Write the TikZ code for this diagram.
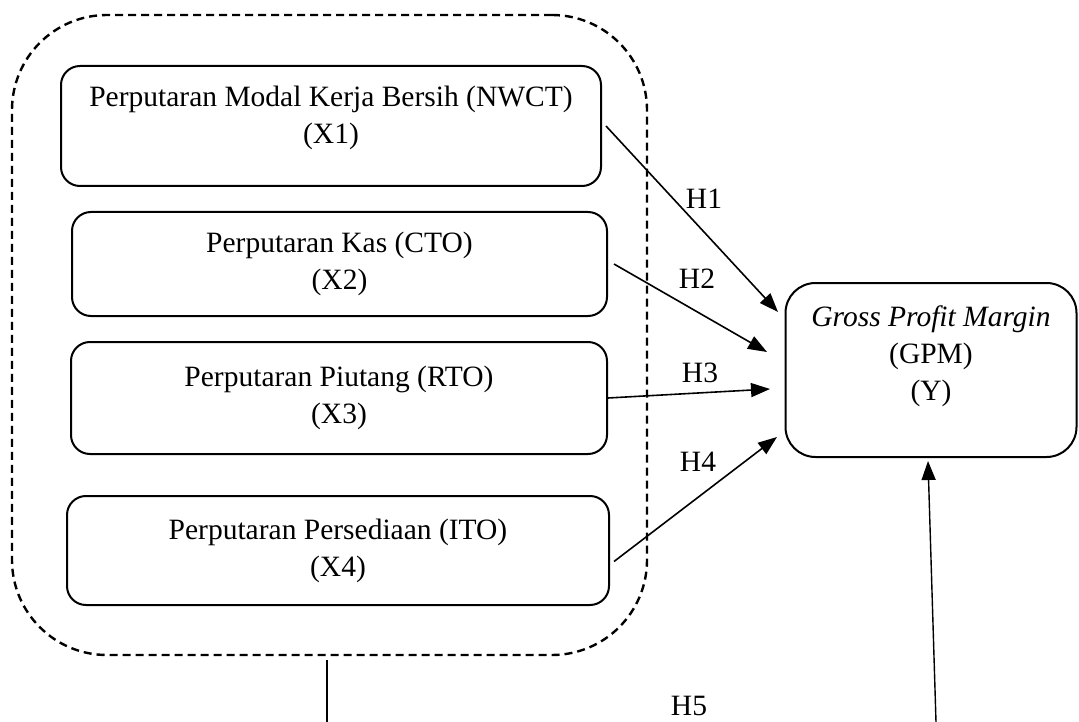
\documentclass[tikz,border=0pt]{standalone}
\usepackage{fontspec}
\setmainfont{Liberation Serif}
\usetikzlibrary{arrows.meta,calc}
\begin{document}
\begin{tikzpicture}[x=1pt,y=-1pt,
  txt/.style={font=\fontsize{29.5}{37}\selectfont,align=center,inner sep=0pt},
  varbox/.style={draw,line width=2pt,rounded corners=19pt,txt},
  grpbox/.style={draw,line width=2.4pt,dash pattern=on 8pt off 5pt,rounded corners=95pt,inner sep=0pt},
  conn/.style={line width=1.6pt,-{Triangle[length=19pt,width=14pt]}},
  hlab/.style={txt}
]
\useasboundingbox (0,0) rectangle (1079,722);
% group
\node[grpbox,minimum width=635pt,minimum height=640pt] (grp) at (329.5,335) {};
% independent variables
\node[varbox,minimum width=540pt,minimum height=120pt] (b1) at (331,126) {Perputaran Modal Kerja Bersih (NWCT)\\(X1)\\[-14pt]};
\node[varbox,minimum width=535pt,minimum height=104pt] (b2) at (339.5,264) {Perputaran Kas (CTO)\\(X2)};
\node[varbox,minimum width=536pt,minimum height=112pt] (b3) at (339,398) {Perputaran Piutang (RTO)\\(X3)};
\node[varbox,minimum width=542pt,minimum height=109pt] (b4) at (338,550.5) {Perputaran Persediaan (ITO)\\(X4)};
% dependent variable
\node[varbox,rounded corners=30pt,minimum width=291pt,minimum height=174pt] (g) at (931,370) {};
\node[txt] (gt) at (931,356) {\textit{Gross Profit Margin}\\(GPM)\\(Y)};
% arrow end points
\coordinate (e1) at (778,312);
\coordinate (e2) at (767,352);
\coordinate (e3) at (770,389);
\coordinate (e4) at (777,437);
\coordinate (b5) at (329.5,722);
\coordinate (b6) at (936,722);
% connectors
\draw[conn] ([xshift=4pt]b1.east) -- (e1);
\draw[conn] ([xshift=6pt]b2.east) -- (e2);
\draw[conn] (b3.east) -- (e3);
\draw[conn] ([xshift=4pt,yshift=-11pt]b4.east) -- (e4);
\draw[line width=1.3pt] ([xshift=-2.5pt,yshift=-4pt]grp.south) -- ([xshift=-2.5pt]b5);
\draw[conn,line width=1.4pt] (b6) -- ([xshift=-3pt,yshift=-3pt]g.south);
% labels
\node[hlab] (h1) at (704,199) {H1};
\node[hlab] (h2) at (697,279) {H2};
\node[hlab] (h3) at (700,373) {H3};
\node[hlab] (h4) at (698,462) {H4};
\node[hlab] (h5) at (689,706) {H5};
\end{tikzpicture}
\end{document}
